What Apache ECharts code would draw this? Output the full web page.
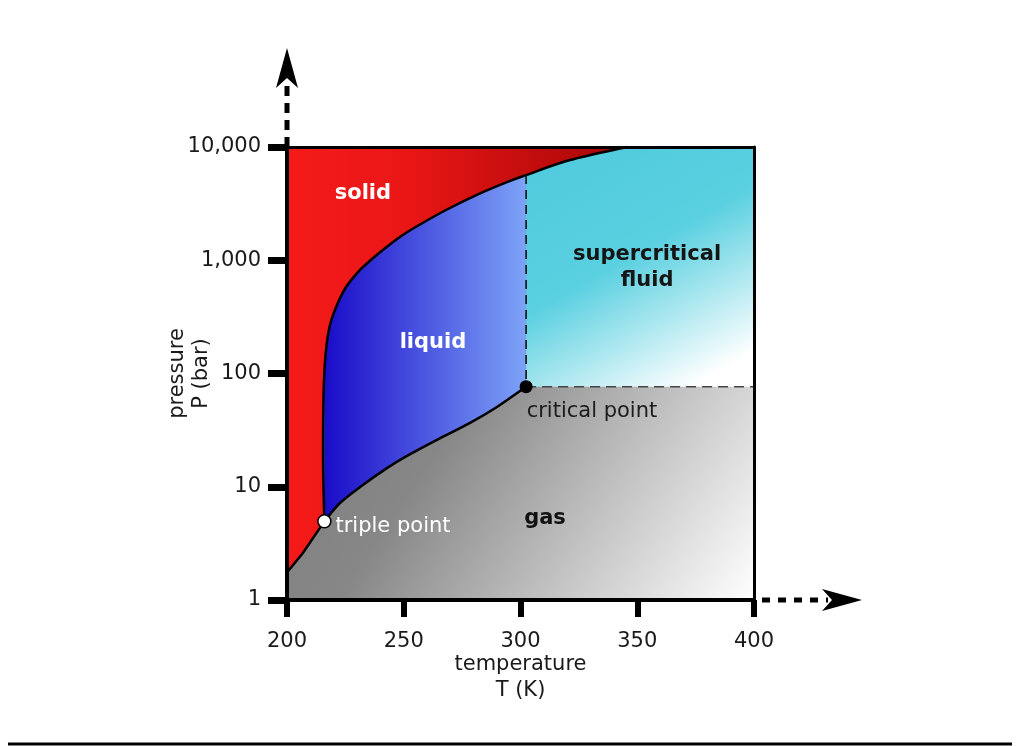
<!DOCTYPE html>
<html>
<head>
    <meta charset="utf-8">
    <title>phase diagram</title>
    <script src="https://cdn.jsdelivr.net/npm/echarts@6/dist/echarts.min.js"></script>
    <style>
        html, body { margin: 0; padding: 0; background: #fff; }
        #map { width: 1024px; height: 746px; }
    </style>
</head>
<body>
<div id="map"></div>
<script>
    // axis ranges and tick labels
    var tMin = 200, tMax = 400, tStep = 50;
    var pMin = 1, pMax = 10000;
    var pTickLabels = ['1', '10', '100', '1,000', '10,000'];

    // special points (T in K, P in bar)
    var triplePoint = [216.0, 4.95];
    var criticalPoint = [302.4, 76.5];

    // solid / gas boundary
    var sublimationT = [200, 206.8, 216.0];
    var sublimationP = [1.75, 2.6, 4.95];

    // solid / liquid (and solid / supercritical) boundary
    var meltingT = [216.0, 215.5, 215.5, 215.85, 216.7, 218.4, 221.4, 225.3, 230.4, 236.4, 242.4, 249.25, 256.96, 268.5, 282.7, 294.2, 302.4, 321.2, 345.6];
    var meltingP = [4.95, 14.1, 38.8, 87.6, 161, 268, 403, 580, 787, 1026, 1296, 1654, 2069, 2806, 3893, 4898, 5650, 7674, 10000];

    // liquid / gas boundary
    var vaporT = [216.0, 222.7, 231.3, 242.8, 251.4, 264.2, 278.4, 289.9, 302.4];
    var vaporP = [4.95, 7.19, 9.95, 14.6, 18.7, 25.9, 36.6, 50.6, 76.5];

    // region labels
    var labelNames = ['solid', 'liquid', 'supercritical\nfluid', 'gas', 'critical point', 'triple point'];
    var labelT = [232.5, 262.5, 354.2, 310.5, 330.6, 245.4];
    var labelP = [3850, 188, 870, 5.2, 46, 4.45];

    function pairs(ts, ps) {
        return ts.map(function (t, i) { return [t, ps[i]]; });
    }

    var sublimation = pairs(sublimationT, sublimationP);
    var melting = pairs(meltingT, meltingP);
    var vapor = pairs(vaporT, vaporP);
    var meltAtCrit = melting[meltingT.indexOf(criticalPoint[0])];

    var LG = echarts.graphic.LinearGradient;
    var fills = {
        gas: new LG(0.05, 0.35, 1, 1, [
            { offset: 0, color: '#7b7b7b' }, { offset: 0.35, color: '#878787' }, { offset: 1, color: '#ffffff' }]),
        fluid: new LG(0.2, 0, 0.8, 1, [
            { offset: 0, color: '#50cbdd' }, { offset: 0.45, color: '#5ad0e0' }, { offset: 0.97, color: '#ffffff' }]),
        liquid: new LG(0, 0, 1, 0, [
            { offset: 0, color: '#1a0bc9' }, { offset: 1, color: '#7da3f7' }]),
        solid: new LG(0, 0, 1, 0, [
            { offset: 0, color: '#f51a1a' }, { offset: 0.35, color: '#ea1616' }, { offset: 1, color: '#a60606' }])
    };

    var labelStyles = [
        { color: '#ffffff', fontWeight: 'bold' },
        { color: '#ffffff', fontWeight: 'bold' },
        { color: '#151515', fontWeight: 'bold' },
        { color: '#111111', fontWeight: 'bold' },
        { color: '#1c1c1c', fontWeight: 'normal' },
        { color: '#ffffff', fontWeight: 'normal' }
    ];

    // --- path helpers (pixel points come from api.coord) ---
    function pt(p) { return p[0].toFixed(2) + ',' + p[1].toFixed(2); }

    // Catmull-Rom through the points, as cubic bezier commands
    function curve(px) {
        var out = [];
        for (var i = 0; i < px.length - 1; i++) {
            var p0 = px[Math.max(i - 1, 0)], p1 = px[i], p2 = px[i + 1], p3 = px[Math.min(i + 2, px.length - 1)];
            var c1 = [p1[0] + (p2[0] - p0[0]) / 6, p1[1] + (p2[1] - p0[1]) / 6];
            var c2 = [p2[0] - (p3[0] - p1[0]) / 6, p2[1] - (p3[1] - p1[1]) / 6];
            out.push('C' + pt(c1) + ' ' + pt(c2) + ' ' + pt(p2));
        }
        return out.join(' ');
    }

    function lines(px) {
        return px.map(function (p) { return 'L' + pt(p); }).join(' ');
    }

    function regionPath(name, c) {
        if (name === 'gas') {
            return 'M' + pt(c([tMin, pMin])) + ' ' + lines([[tMin, pMax], [tMax, pMax], [tMax, pMin]].map(c)) + ' Z';
        }
        if (name === 'fluid') {
            return 'M' + pt(c(criticalPoint)) + ' ' +
                lines([[criticalPoint[0], pMax], [tMax, pMax], [tMax, criticalPoint[1]]].map(c)) + ' Z';
        }
        if (name === 'liquid') {
            return 'M' + pt(c(triplePoint)) + ' ' + curve(vapor.map(c)) + ' ' +
                lines([[criticalPoint[0], pMax], [triplePoint[0], pMax]].map(c)) + ' Z';
        }
        // solid
        return 'M' + pt(c(sublimation[0])) + ' ' + lines(sublimation.slice(1).map(c)) + ' ' +
            curve(melting.map(c)) + ' ' + lines([[tMin, pMax]].map(c)) + ' Z';
    }

    var regionNames = ['gas', 'fluid', 'liquid', 'solid'];
    var edgeNames = ['sublimation', 'melting', 'vapor', 'tcLine', 'pcLine'];

    function edgePath(name, c) {
        if (name === 'sublimation') return 'M' + pt(c(sublimation[0])) + ' ' + lines(sublimation.slice(1).map(c));
        if (name === 'melting') return 'M' + pt(c(melting[0])) + ' ' + curve(melting.map(c));
        if (name === 'vapor') return 'M' + pt(c(vapor[0])) + ' ' + curve(vapor.map(c));
        if (name === 'tcLine') return 'M' + pt(c(meltAtCrit)) + ' ' + lines([c(criticalPoint)]);
        return 'M' + pt(c(criticalPoint)) + ' ' + lines([c([tMax, criticalPoint[1]])]);
    }

    var edgeStyles = {
        sublimation: { stroke: '#000', lineWidth: 2.5 },
        melting: { stroke: '#000', lineWidth: 2.5 },
        vapor: { stroke: '#000', lineWidth: 2.5 },
        tcLine: { stroke: '#111', lineWidth: 1.6, lineDash: [9, 6] },
        pcLine: { stroke: '#444', lineWidth: 1.6, lineDash: [10, 6] }
    };

    var font = 'DejaVu Sans';
    var fs = 21;
    var gridL = 287, gridR = 270, gridT = 147, gridB = 146;

    var chart = echarts.init(document.getElementById('map'));

    chart.setOption({
        animation: false,
        textStyle: { fontFamily: font },
        grid: { left: gridL, right: gridR, top: gridT, bottom: gridB },
        xAxis: [
            {
                type: 'value', min: tMin, max: tMax, interval: tStep, z: 8,
                name: 'temperature\nT (K)', nameLocation: 'middle', nameGap: 52, nameMoveOverlap: false,
                nameTextStyle: { fontSize: fs, color: '#1a1a1a', lineHeight: 26, fontFamily: font },
                axisLine: { lineStyle: { color: '#000', width: 4 } },
                axisTick: { length: 17, lineStyle: { color: '#000', width: 6 } },
                axisLabel: { margin: 31, fontSize: fs, color: '#1a1a1a', fontFamily: font },
                splitLine: { show: false }
            },
            {
                type: 'value', min: tMin, max: tMax, position: 'top', z: 8,
                axisLine: { lineStyle: { color: '#000', width: 3 } },
                axisTick: { show: false }, axisLabel: { show: false }, splitLine: { show: false }
            }
        ],
        yAxis: [
            {
                type: 'log', logBase: 10, min: pMin, max: pMax, z: 8,
                name: 'pressure\nP (bar)', nameLocation: 'middle', nameGap: 73, nameRotate: 90, nameMoveOverlap: false,
                nameTextStyle: { fontSize: fs, color: '#1a1a1a', lineHeight: 24, fontFamily: font },
                axisLine: { lineStyle: { color: '#000', width: 4 } },
                axisTick: { length: 19, lineStyle: { color: '#000', width: 7 } },
                axisLabel: {
                    margin: 26, fontSize: fs, color: '#1a1a1a', fontFamily: font,
                    formatter: function (v) { return pTickLabels[Math.round(Math.log10(v))]; }
                },
                splitLine: { show: false }
            },
            {
                type: 'log', logBase: 10, min: pMin, max: pMax, position: 'right', z: 8,
                axisLine: { lineStyle: { color: '#000', width: 3 } },
                axisTick: { show: false }, axisLabel: { show: false }, splitLine: { show: false }
            }
        ],
        series: [
            {
                // phase regions, painted back to front
                type: 'custom', silent: true, z: 1,
                data: regionNames.map(function (n, i) { return i; }),
                renderItem: function (params, api) {
                    var name = regionNames[params.dataIndex];
                    return {
                        type: 'path',
                        shape: { pathData: regionPath(name, api.coord) },
                        style: { fill: fills[name], stroke: null }
                    };
                }
            },
            {
                // phase boundaries
                type: 'custom', silent: true, z: 3,
                data: edgeNames.map(function (n, i) { return i; }),
                renderItem: function (params, api) {
                    var name = edgeNames[params.dataIndex];
                    var st = edgeStyles[name];
                    return {
                        type: 'path',
                        shape: { pathData: edgePath(name, api.coord) },
                        style: { fill: null, stroke: st.stroke, lineWidth: st.lineWidth, lineDash: st.lineDash || null }
                    };
                }
            },
            {
                type: 'scatter', silent: true, z: 5,
                data: [
                    { value: triplePoint, symbolSize: 13, itemStyle: { color: '#fff', borderColor: '#000', borderWidth: 1.5, opacity: 1 } },
                    { value: criticalPoint, symbolSize: 13, itemStyle: { color: '#000', opacity: 1 } }
                ]
            },
            {
                type: 'scatter', silent: true, z: 6, symbolSize: 0,
                itemStyle: { opacity: 1 },
                data: labelNames.map(function (n, i) {
                    return {
                        name: n, value: [labelT[i], labelP[i]],
                        label: labelStyles[i]
                    };
                }),
                label: {
                    show: true, position: 'inside', formatter: '{b}',
                    fontSize: fs, lineHeight: 26, fontFamily: font, align: 'center'
                }
            }
        ],
        graphic: [
            // dashed extension of the pressure axis with arrowhead
            {
                type: 'line', shape: { x1: gridL, y1: gridT, x2: gridL, y2: 82 },
                style: { stroke: '#000', lineWidth: 5, lineDash: [10, 7] }, silent: true
            },
            {
                type: 'polygon', silent: true,
                shape: { points: [[gridL, 48], [gridL - 11, 88], [gridL, 78], [gridL + 11, 88]] },
                style: { fill: '#000' }
            },
            // dashed extension of the temperature axis with arrowhead
            {
                type: 'line', shape: { x1: 762, y1: 600, x2: 828, y2: 600 },
                style: { stroke: '#000', lineWidth: 5, lineDash: [8, 8] }, silent: true
            },
            {
                type: 'polygon', silent: true,
                shape: { points: [[862, 600], [822, 589], [832, 600], [822, 611]] },
                style: { fill: '#000' }
            },
            // rule under the figure
            {
                type: 'line', silent: true,
                shape: { x1: 8, y1: 744, x2: 1012, y2: 744 },
                style: { stroke: '#000', lineWidth: 3 }
            }
        ]
    });
</script>
</body>
</html>
